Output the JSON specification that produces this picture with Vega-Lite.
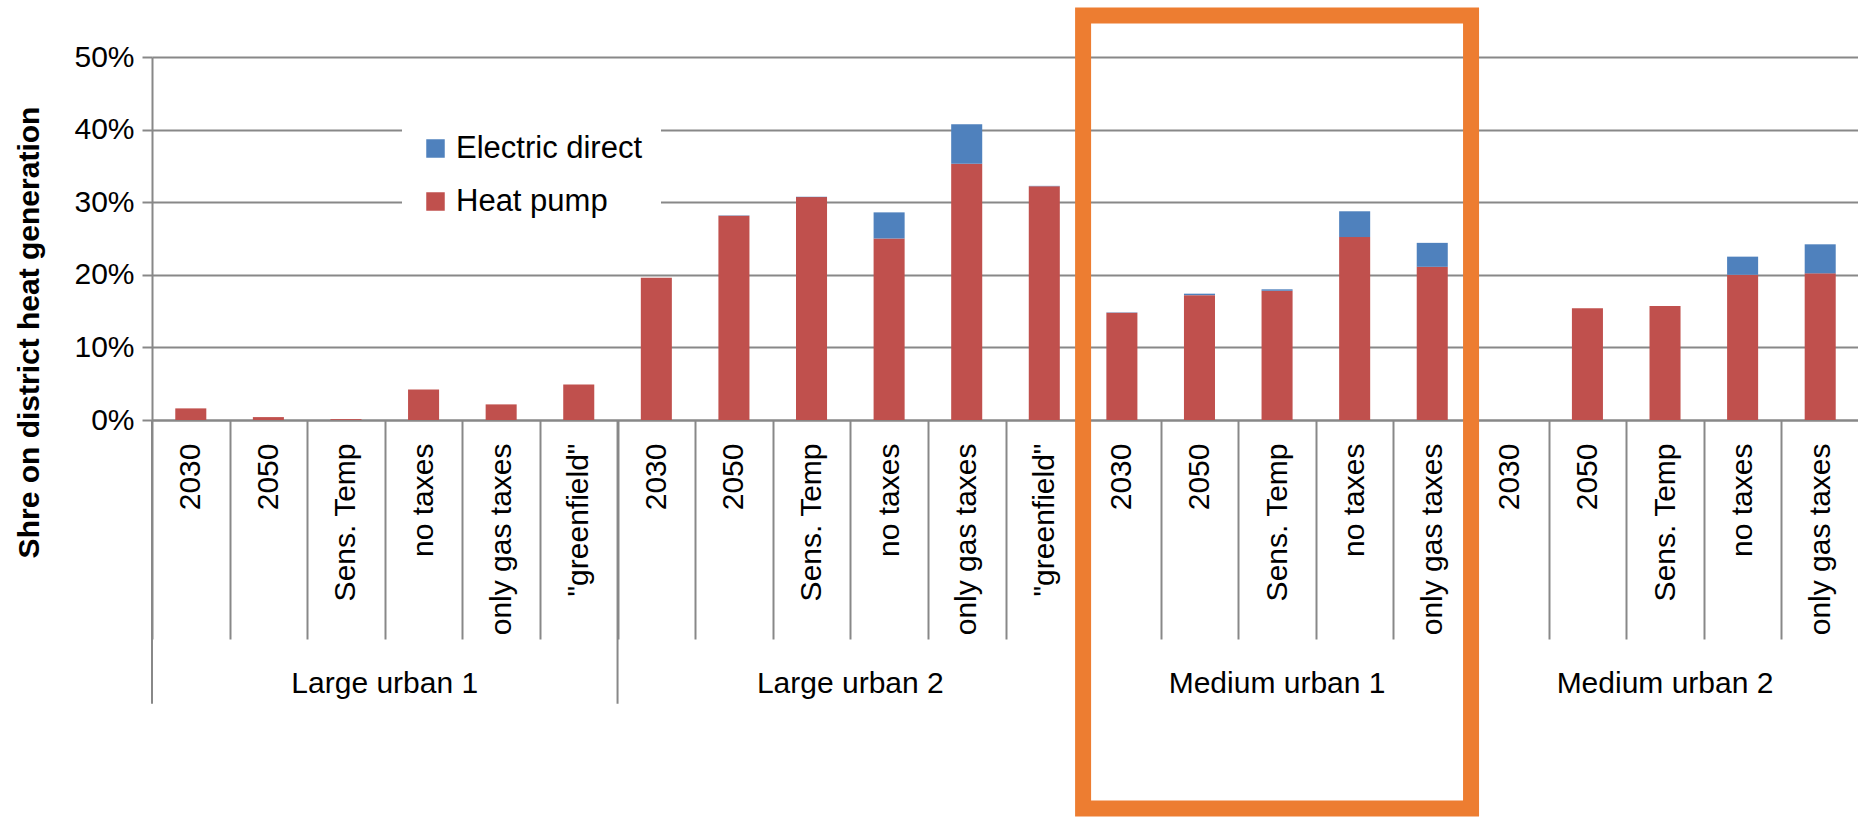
{
  "$schema": "https://vega.github.io/schema/vega-lite/v6.json",
  "width": 1707,
  "height": 363,
  "padding": {"left": 13, "top": 7, "right": 0, "bottom": 0},
  "background": "white",
  "config": {
    "view": {"stroke": null},
    "font": "Liberation Sans",
    "axis": {"labelFont": "Liberation Sans", "titleFont": "Liberation Sans", "labelColor": "black", "titleColor": "black"}
  },
  "data": {
    "values": [
      {"group": "Large urban 1", "scenario": "2030", "cat": "Large urban 1|2030", "series": "Heat pump", "value": 0.016},
      {"group": "Large urban 1", "scenario": "2030", "cat": "Large urban 1|2030", "series": "Electric direct", "value": 0},
      {"group": "Large urban 1", "scenario": "2050", "cat": "Large urban 1|2050", "series": "Heat pump", "value": 0.004},
      {"group": "Large urban 1", "scenario": "2050", "cat": "Large urban 1|2050", "series": "Electric direct", "value": 0},
      {"group": "Large urban 1", "scenario": "Sens. Temp", "cat": "Large urban 1|Sens. Temp", "series": "Heat pump", "value": 0.0012},
      {"group": "Large urban 1", "scenario": "Sens. Temp", "cat": "Large urban 1|Sens. Temp", "series": "Electric direct", "value": 0},
      {"group": "Large urban 1", "scenario": "no taxes", "cat": "Large urban 1|no taxes", "series": "Heat pump", "value": 0.042},
      {"group": "Large urban 1", "scenario": "no taxes", "cat": "Large urban 1|no taxes", "series": "Electric direct", "value": 0},
      {"group": "Large urban 1", "scenario": "only gas taxes", "cat": "Large urban 1|only gas taxes", "series": "Heat pump", "value": 0.0215},
      {"group": "Large urban 1", "scenario": "only gas taxes", "cat": "Large urban 1|only gas taxes", "series": "Electric direct", "value": 0},
      {"group": "Large urban 1", "scenario": "\"greenfield\"", "cat": "Large urban 1|\"greenfield\"", "series": "Heat pump", "value": 0.049},
      {"group": "Large urban 1", "scenario": "\"greenfield\"", "cat": "Large urban 1|\"greenfield\"", "series": "Electric direct", "value": 0},
      {"group": "Large urban 2", "scenario": "2030", "cat": "Large urban 2|2030", "series": "Heat pump", "value": 0.196},
      {"group": "Large urban 2", "scenario": "2030", "cat": "Large urban 2|2030", "series": "Electric direct", "value": 0},
      {"group": "Large urban 2", "scenario": "2050", "cat": "Large urban 2|2050", "series": "Heat pump", "value": 0.2815},
      {"group": "Large urban 2", "scenario": "2050", "cat": "Large urban 2|2050", "series": "Electric direct", "value": 0.0005},
      {"group": "Large urban 2", "scenario": "Sens. Temp", "cat": "Large urban 2|Sens. Temp", "series": "Heat pump", "value": 0.307},
      {"group": "Large urban 2", "scenario": "Sens. Temp", "cat": "Large urban 2|Sens. Temp", "series": "Electric direct", "value": 0.0005},
      {"group": "Large urban 2", "scenario": "no taxes", "cat": "Large urban 2|no taxes", "series": "Heat pump", "value": 0.25},
      {"group": "Large urban 2", "scenario": "no taxes", "cat": "Large urban 2|no taxes", "series": "Electric direct", "value": 0.036},
      {"group": "Large urban 2", "scenario": "only gas taxes", "cat": "Large urban 2|only gas taxes", "series": "Heat pump", "value": 0.353},
      {"group": "Large urban 2", "scenario": "only gas taxes", "cat": "Large urban 2|only gas taxes", "series": "Electric direct", "value": 0.0545},
      {"group": "Large urban 2", "scenario": "\"greenfield\"", "cat": "Large urban 2|\"greenfield\"", "series": "Heat pump", "value": 0.322},
      {"group": "Large urban 2", "scenario": "\"greenfield\"", "cat": "Large urban 2|\"greenfield\"", "series": "Electric direct", "value": 0.0005},
      {"group": "Medium urban 1", "scenario": "2030", "cat": "Medium urban 1|2030", "series": "Heat pump", "value": 0.1476},
      {"group": "Medium urban 1", "scenario": "2030", "cat": "Medium urban 1|2030", "series": "Electric direct", "value": 0.0005},
      {"group": "Medium urban 1", "scenario": "2050", "cat": "Medium urban 1|2050", "series": "Heat pump", "value": 0.172},
      {"group": "Medium urban 1", "scenario": "2050", "cat": "Medium urban 1|2050", "series": "Electric direct", "value": 0.002},
      {"group": "Medium urban 1", "scenario": "Sens. Temp", "cat": "Medium urban 1|Sens. Temp", "series": "Heat pump", "value": 0.178},
      {"group": "Medium urban 1", "scenario": "Sens. Temp", "cat": "Medium urban 1|Sens. Temp", "series": "Electric direct", "value": 0.002},
      {"group": "Medium urban 1", "scenario": "no taxes", "cat": "Medium urban 1|no taxes", "series": "Heat pump", "value": 0.252},
      {"group": "Medium urban 1", "scenario": "no taxes", "cat": "Medium urban 1|no taxes", "series": "Electric direct", "value": 0.0355},
      {"group": "Medium urban 1", "scenario": "only gas taxes", "cat": "Medium urban 1|only gas taxes", "series": "Heat pump", "value": 0.211},
      {"group": "Medium urban 1", "scenario": "only gas taxes", "cat": "Medium urban 1|only gas taxes", "series": "Electric direct", "value": 0.033},
      {"group": "Medium urban 2", "scenario": "2030", "cat": "Medium urban 2|2030", "series": "Heat pump", "value": 0},
      {"group": "Medium urban 2", "scenario": "2030", "cat": "Medium urban 2|2030", "series": "Electric direct", "value": 0},
      {"group": "Medium urban 2", "scenario": "2050", "cat": "Medium urban 2|2050", "series": "Heat pump", "value": 0.154},
      {"group": "Medium urban 2", "scenario": "2050", "cat": "Medium urban 2|2050", "series": "Electric direct", "value": 0},
      {"group": "Medium urban 2", "scenario": "Sens. Temp", "cat": "Medium urban 2|Sens. Temp", "series": "Heat pump", "value": 0.157},
      {"group": "Medium urban 2", "scenario": "Sens. Temp", "cat": "Medium urban 2|Sens. Temp", "series": "Electric direct", "value": 0},
      {"group": "Medium urban 2", "scenario": "no taxes", "cat": "Medium urban 2|no taxes", "series": "Heat pump", "value": 0.2},
      {"group": "Medium urban 2", "scenario": "no taxes", "cat": "Medium urban 2|no taxes", "series": "Electric direct", "value": 0.025},
      {"group": "Medium urban 2", "scenario": "only gas taxes", "cat": "Medium urban 2|only gas taxes", "series": "Heat pump", "value": 0.202},
      {"group": "Medium urban 2", "scenario": "only gas taxes", "cat": "Medium urban 2|only gas taxes", "series": "Electric direct", "value": 0.04}
    ]
  },
  "layer": [
    {
      "mark": {"type": "bar", "width": {"band": 0.4}},
      "encoding": {
        "x": {
          "field": "cat",
          "type": "nominal",
          "scale": {
            "domain": [
              "Large urban 1|2030", "Large urban 1|2050", "Large urban 1|Sens. Temp", "Large urban 1|no taxes", "Large urban 1|only gas taxes", "Large urban 1|\"greenfield\"",
              "Large urban 2|2030", "Large urban 2|2050", "Large urban 2|Sens. Temp", "Large urban 2|no taxes", "Large urban 2|only gas taxes", "Large urban 2|\"greenfield\"",
              "Medium urban 1|2030", "Medium urban 1|2050", "Medium urban 1|Sens. Temp", "Medium urban 1|no taxes", "Medium urban 1|only gas taxes",
              "Medium urban 2|2030", "Medium urban 2|2050", "Medium urban 2|Sens. Temp", "Medium urban 2|no taxes", "Medium urban 2|only gas taxes"
            ],
            "paddingInner": 0,
            "paddingOuter": 0
          },
          "axis": {
            "title": null,
            "labelExpr": "split(datum.label, '|')[1]",
            "labelAngle": -90,
            "labelAlign": "right",
            "labelBaseline": "middle",
            "labelFontSize": 30,
            "labelPadding": -196,
            "labelOverlap": false,
            "labelLimit": 400,
            "tickBand": "extent",
            "tickSize": 219,
            "tickWidth": 2,
            "tickColor": "#888888",
            "domainColor": "#888888",
            "domainWidth": 2,
            "grid": false
          }
        },
        "y": {
          "field": "value",
          "type": "quantitative",
          "stack": "zero",
          "scale": {"domain": [0, 0.5], "nice": false, "zero": true},
          "axis": {
            "title": "Shre on district heat generation",
            "titleFontSize": 30,
            "titleFontWeight": "bold",
            "titleAngle": -90,
            "titleAlign": "center",
            "titleBaseline": "alphabetic",
            "titleX": -114,
            "titleY": 275,
            "values": [0, 0.1, 0.2, 0.3, 0.4, 0.5],
            "format": ".0%",
            "labelFontSize": 30,
            "labelPadding": 8,
            "tickSize": 10,
            "tickWidth": 2,
            "tickColor": "#888888",
            "domainColor": "#888888",
            "domainWidth": 2,
            "grid": true,
            "gridColor": "#888888",
            "gridWidth": 2
          }
        },
        "color": {
          "field": "series",
          "type": "nominal",
          "scale": {"domain": ["Electric direct", "Heat pump"], "range": ["#4F81BD", "#C0504D"]},
          "legend": {
            "title": null,
            "orient": "none",
            "legendX": 250,
            "legendY": 58,
            "fillColor": "white",
            "padding": 18,
            "symbolType": "square",
            "symbolSize": 342,
            "symbolStrokeWidth": 0,
            "labelFontSize": 31,
            "labelFont": "Liberation Sans",
            "labelColor": "black",
            "labelOffset": 5,
            "rowPadding": 21,
            "labelLimit": 400
          }
        },
        "order": {"field": "series", "sort": "descending"}
      }
    },
    {
      "transform": [{"filter": "datum.scenario == '2030' && datum.series == 'Heat pump'"}],
      "mark": {"type": "rule", "color": "#888888", "strokeWidth": 2},
      "encoding": {
        "x": {"field": "cat", "type": "nominal", "bandPosition": 0},
        "y": {"datum": 0, "type": "quantitative"},
        "y2": {"datum": -0.391}
      }
    },
    {
      "transform": [{"filter": "datum.scenario == 'Sens. Temp' && datum.series == 'Heat pump' && indexof(datum.group, 'Large') == 0"}],
      "mark": {"type": "text", "fontSize": 30, "font": "Liberation Sans", "color": "black", "baseline": "alphabetic", "align": "center"},
      "encoding": {
        "x": {"field": "cat", "type": "nominal", "bandPosition": 1},
        "y": {"datum": -0.376, "type": "quantitative"},
        "text": {"field": "group"}
      }
    },
    {
      "transform": [{"filter": "datum.scenario == 'Sens. Temp' && datum.series == 'Heat pump' && indexof(datum.group, 'Medium') == 0"}],
      "mark": {"type": "text", "fontSize": 30, "font": "Liberation Sans", "color": "black", "baseline": "alphabetic", "align": "center"},
      "encoding": {
        "x": {"field": "cat", "type": "nominal", "bandPosition": 0.5},
        "y": {"datum": -0.376, "type": "quantitative"},
        "text": {"field": "group"}
      }
    },
    {
      "data": {"values": [{"box": "Medium urban 1"}]},
      "mark": {"type": "rect", "fill": null, "fillOpacity": 0, "stroke": "#ED7D31", "strokeWidth": 16},
      "encoding": {
        "x": {"datum": "Medium urban 1|2030", "type": "nominal", "bandPosition": 0},
        "x2": {"datum": "Medium urban 1|only gas taxes", "bandPosition": 1},
        "y": {"datum": 0.557, "type": "quantitative"},
        "y2": {"datum": -0.535}
      }
    }
  ]
}
